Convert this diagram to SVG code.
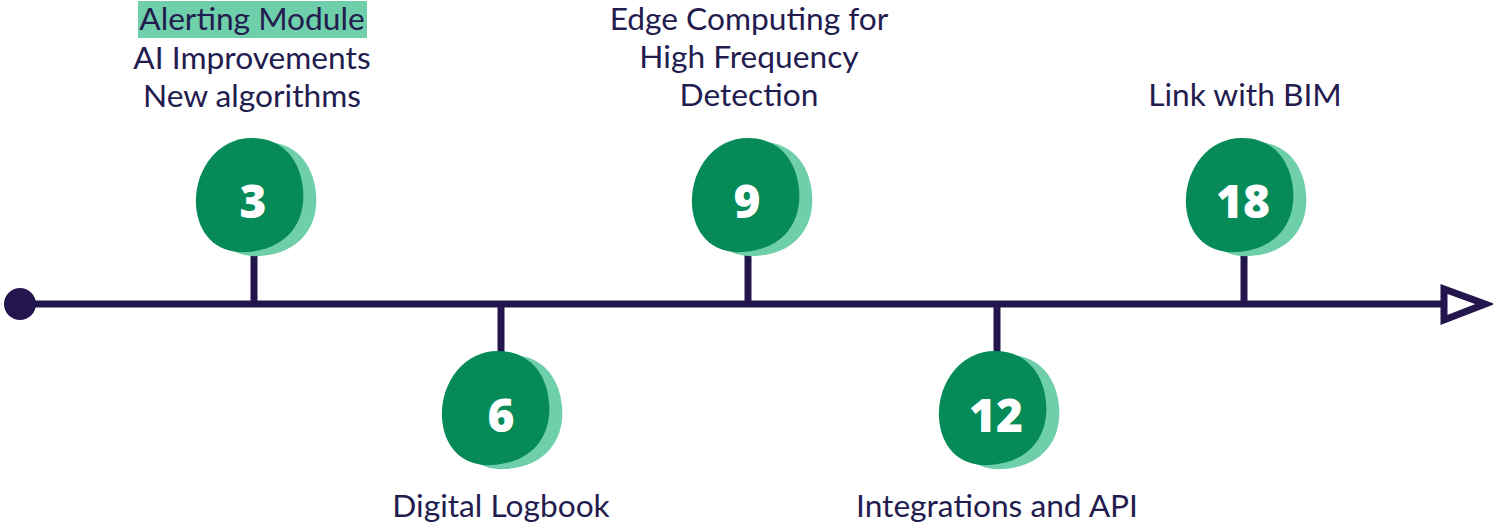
<svg xmlns="http://www.w3.org/2000/svg" width="1493" height="527" viewBox="0 0 1493 527">
<defs>
<style>
.lbl{font-family:Lato,"Open Sans",sans-serif;font-size:31.7px;fill:#231c4f;text-anchor:middle}
.num{font-family:"Open Sans",Lato,sans-serif;font-weight:800;font-size:46px;fill:#ffffff;text-anchor:middle}
.dark{fill:#068a58}
.light{fill:#6fcfaa}
.ln{stroke:#22164d;stroke-width:7;fill:none}
</style>
<path id="blob" d="M 2,-57 C 32,-57 50,-36 53,-6 C 56,24 40,54 -3,57 C -33,59 -52,40 -54,10 C -56,-24 -33,-57 2,-57 Z"/>
</defs>
<rect width="1493" height="527" fill="#ffffff"/>
<g id="connectors">
<line class="ln" x1="20" y1="304" x2="1442" y2="304"/>
<circle cx="20" cy="304" r="16" fill="#22164d"/>
<polygon class="ln" points="1444,289 1444,320 1485,304" stroke-linejoin="miter"/>
<line class="ln" x1="254" y1="250" x2="254" y2="304"/>
<line class="ln" x1="501" y1="304" x2="501" y2="354"/>
<line class="ln" x1="748" y1="250" x2="748" y2="304"/>
<line class="ln" x1="997" y1="304" x2="997" y2="354"/>
<line class="ln" x1="1244" y1="250" x2="1244" y2="304"/>
</g>
<g id="node-3">
<use href="#blob" class="light" transform="translate(263,199)"/>
<use href="#blob" class="dark" transform="translate(250,195)"/>
<text class="num" x="253" y="218">3</text>
<rect x="138" y="1" width="229" height="37" fill="#6fcfaa"/>
<text class="lbl" x="252" y="30">Alerting Module</text>
<text class="lbl" x="252" y="69">AI Improvements</text>
<text class="lbl" x="252" y="107">New algorithms</text>
</g>
<g id="node-6">
<use href="#blob" class="light" transform="translate(509,412)"/>
<use href="#blob" class="dark" transform="translate(496,408)"/>
<text class="num" x="501" y="432">6</text>
<text class="lbl" x="501" y="517">Digital Logbook</text>
</g>
<g id="node-9">
<use href="#blob" class="light" transform="translate(759,199)"/>
<use href="#blob" class="dark" transform="translate(746,195)"/>
<text class="num" x="747" y="218">9</text>
<text class="lbl" x="749" y="30">Edge Computing for</text>
<text class="lbl" x="749" y="68">High Frequency</text>
<text class="lbl" x="749" y="106">Detection</text>
</g>
<g id="node-12">
<use href="#blob" class="light" transform="translate(1006,412)"/>
<use href="#blob" class="dark" transform="translate(993,408)"/>
<text class="num" x="996" y="432">12</text>
<text class="lbl" x="997" y="517">Integrations and API</text>
</g>
<g id="node-18">
<use href="#blob" class="light" transform="translate(1253,199)"/>
<use href="#blob" class="dark" transform="translate(1240,195)"/>
<text class="num" x="1243" y="218">18</text>
<text class="lbl" x="1245" y="106">Link with BIM</text>
</g>
</svg>
